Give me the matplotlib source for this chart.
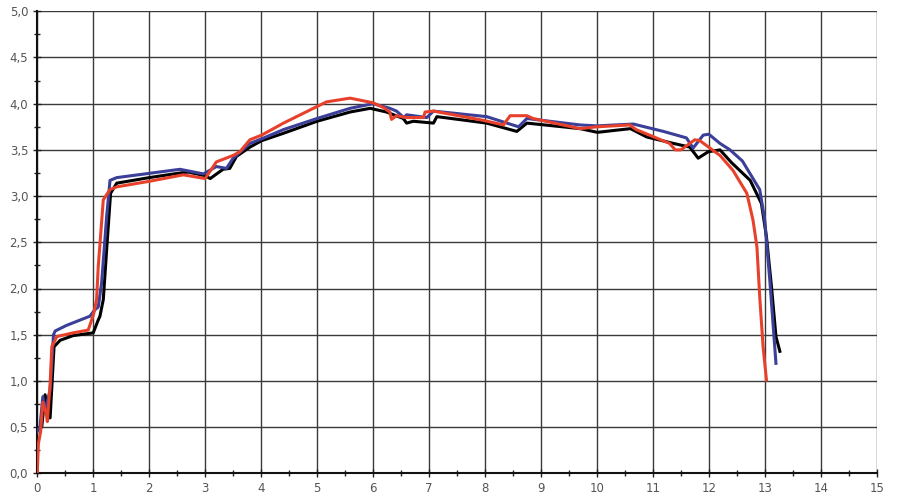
import matplotlib
matplotlib.use("Agg")
import matplotlib.pyplot as plt
from matplotlib.ticker import MultipleLocator, FuncFormatter

# curves (x, y)
black_x = [0.0, 0.08, 0.14, 0.2, 0.23, 0.30, 0.41, 0.64, 1.0, 1.09, 1.12, 1.18, 1.24,
           1.31, 1.42, 2.0, 2.55, 2.7, 3.0, 3.09, 3.32, 3.44, 3.56, 3.8, 4.01, 4.4,
           5.0, 5.59, 5.95, 6.24, 6.54, 6.6, 6.72, 7.08, 7.14, 8.03, 8.57, 8.75,
           9.7, 10.01, 10.3, 10.6, 10.89, 11.37, 11.66, 11.81, 11.99, 12.2, 12.41,
           12.74, 12.94, 13.03, 13.12, 13.2, 13.27]
black_y = [0.49, 0.5, 0.85, 0.6, 0.6, 1.37, 1.44, 1.49, 1.52, 1.66, 1.7, 1.88, 2.42,
           3.03, 3.14, 3.2, 3.25, 3.26, 3.22, 3.19, 3.29, 3.30, 3.43, 3.53, 3.60, 3.68,
           3.81, 3.91, 3.95, 3.91, 3.84, 3.79, 3.81, 3.79, 3.86, 3.79, 3.70, 3.79,
           3.73, 3.69, 3.71, 3.73, 3.64, 3.57, 3.53, 3.41, 3.48, 3.50, 3.36,
           3.17, 2.92, 2.56, 2.02, 1.48, 1.32]

blue_x = [0.0, 0.05, 0.1, 0.14, 0.23, 0.29, 0.32, 0.52, 0.94, 1.03, 1.09, 1.15, 1.24,
          1.30, 1.42, 2.55, 2.97, 3.2, 3.38, 3.5, 3.8, 4.01, 4.4, 5.0, 5.59, 6.0,
          6.30, 6.42, 6.55, 6.6, 6.96, 7.08, 8.03, 8.6, 8.75, 9.7, 10.0, 10.65,
          11.19, 11.6, 11.72, 11.9, 12.0, 12.2, 12.38, 12.6, 12.91, 13.0, 13.09, 13.2]
blue_y = [0.45, 0.51, 0.83, 0.68, 0.9, 1.50, 1.54, 1.6, 1.70, 1.77, 1.80, 2.06, 2.78,
          3.17, 3.20, 3.29, 3.24, 3.32, 3.30, 3.41, 3.57, 3.62, 3.72, 3.84, 3.95, 4.0,
          3.95, 3.92, 3.85, 3.88, 3.85, 3.92, 3.86, 3.75, 3.84, 3.77, 3.76, 3.78,
          3.70, 3.63, 3.52, 3.66, 3.67, 3.57, 3.50, 3.38, 3.07, 2.74, 2.09, 1.19]

red_x = [0.0, 0.02, 0.06, 0.1, 0.16, 0.18, 0.23, 0.26, 0.35, 0.64, 0.91, 0.95, 1.01,
         1.06, 1.09, 1.18, 1.30, 1.42, 2.0, 2.61, 3.0, 3.2, 3.5, 3.62, 3.8, 4.01,
         4.4, 5.0, 5.17, 5.59, 6.0, 6.18, 6.30, 6.33, 6.42, 6.6, 6.90, 6.93, 7.08,
         7.97, 8.33, 8.45, 8.75, 8.86, 9.7, 10.0, 10.59, 10.7, 11.3, 11.4, 11.5,
         11.75, 11.84, 12.2, 12.43, 12.68, 12.79, 12.86, 12.91, 12.97, 13.03]
red_y = [0.0, 0.32, 0.45, 0.77, 0.65, 0.56, 0.97, 1.37, 1.48, 1.52, 1.55, 1.62, 1.73,
         1.88, 2.24, 2.96, 3.07, 3.10, 3.16, 3.23, 3.19, 3.37, 3.44, 3.48, 3.61, 3.66,
         3.79, 3.97, 4.02, 4.06, 4.01, 3.96, 3.91, 3.83, 3.87, 3.85, 3.85, 3.91, 3.92,
         3.82, 3.77, 3.87, 3.87, 3.84, 3.73, 3.75, 3.77, 3.72, 3.57, 3.50, 3.50,
         3.61, 3.60, 3.44, 3.28, 3.03, 2.74, 2.45, 1.91, 1.37, 1.01]

fig = plt.figure(figsize=(9, 5), dpi=100)
ax = fig.add_axes([0.0414, 0.0534, 0.9327, 0.9240])

ax.plot(black_x, black_y, color="#000000", lw=2.2, zorder=3)
ax.plot(blue_x, blue_y, color="#3b3f98", lw=2.2, zorder=4)
ax.plot(red_x, red_y, color="#e8412b", lw=2.2, zorder=5)

ax.set_xlim(0, 15)
ax.set_ylim(0, 5)
ax.xaxis.set_major_locator(MultipleLocator(1))
ax.xaxis.set_minor_locator(MultipleLocator(0.5))
ax.yaxis.set_major_locator(MultipleLocator(0.5))
ax.yaxis.set_minor_locator(MultipleLocator(0.25))
# decimal comma like the original
ax.yaxis.set_major_formatter(FuncFormatter(lambda v, p: ("%.1f" % v).replace(".", ",")))

ax.grid(True, which="major", color="#3a3a3a", lw=1.0, zorder=1)
ax.tick_params(which="both", direction="inout", colors="#222222", labelcolor="#555555",
               labelsize=8.5, width=1)
ax.tick_params(which="major", length=6)
ax.tick_params(which="minor", length=5)

for side in ["top", "right"]:
    ax.spines[side].set_visible(False)
for side in ["left", "bottom"]:
    ax.spines[side].set_color("#111111")
    ax.spines[side].set_linewidth(1.5)

fig.savefig("out.png", dpi=100, facecolor="white")
